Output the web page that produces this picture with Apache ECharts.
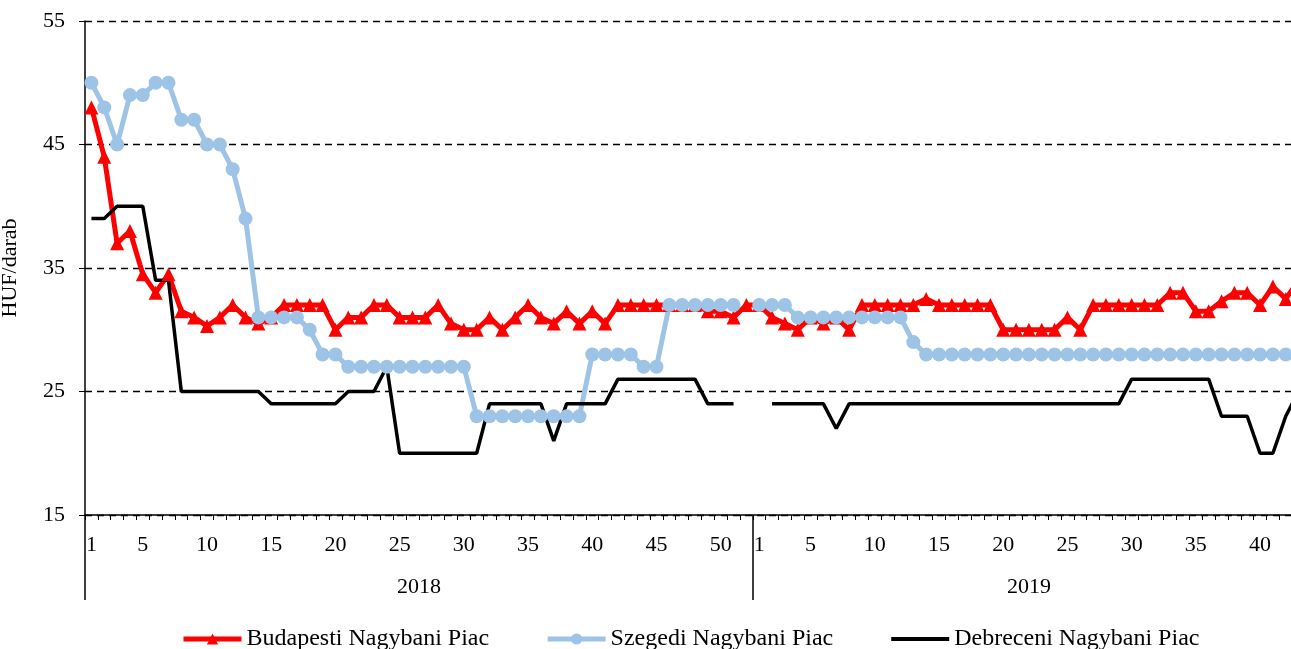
<!DOCTYPE html>
<html>
<head>
<meta charset="utf-8">
<script src="https://cdn.jsdelivr.net/npm/echarts@6/dist/echarts.min.js"></script>
<style>
html,body{margin:0;padding:0;background:#fff;}
#chart{width:1291px;height:649px;}
</style>
</head>
<body>
<div id="chart"></div>
<script>
// ---- data ----
const years = ['2018', '2019'];
const weeks2018 = [1,2,3,4,5,6,7,8,9,10,11,12,13,14,15,16,17,18,19,20,21,22,23,24,25,26,27,28,29,30,31,32,33,34,35,36,37,38,39,40,41,42,43,44,45,46,47,48,49,50,51,52];
const weeks2019 = [1,2,3,4,5,6,7,8,9,10,11,12,13,14,15,16,17,18,19,20,21,22,23,24,25,26,27,28,29,30,31,32,33,34,35,36,37,38,39,40,41,42,43];

const budapest2018 = [48,44,37,38,34.5,33,34.5,31.5,31,30.3,31,32,31,30.5,31,32,32,32,32,30,31,31,32,32,31,31,31,32,30.5,30,30,31,30,31,32,31,30.5,31.5,30.5,31.5,30.5,32,32,32,32,32,32,32,31.5,31.5,31,32];
const budapest2019 = [32,31,30.5,30,31,30.5,31,30,32,32,32,32,32,32.5,32,32,32,32,32,30,30,30,30,30,31,30,32,32,32,32,32,32,33,33,31.5,31.5,32.3,33,33,32,33.5,32.5,34];

const szeged2018 = [50,48,45,49,49,50,50,47,47,45,45,43,39,31,31,31,31,30,28,28,27,27,27,27,27,27,27,27,27,27,23,23,23,23,23,23,23,23,23,28,28,28,28,27,27,32,32,32,32,32,32,null];
const szeged2019 = [32,32,32,31,31,31,31,31,31,31,31,31,29,28,28,28,28,28,28,28,28,28,28,28,28,28,28,28,28,28,28,28,28,28,28,28,28,28,28,28,28,28,28];

const debrecen2018 = [39,39,40,40,40,34,34,25,25,25,25,25,25,25,24,24,24,24,24,24,25,25,25,27,20,20,20,20,20,20,20,24,24,24,24,24,21,24,24,24,24,26,26,26,26,26,26,26,24,24,24,null];
const debrecen2019 = [null,24,24,24,24,24,22,24,24,24,24,24,24,24,24,24,24,24,24,24,24,24,24,24,24,24,24,24,24,26,26,26,26,26,26,26,23,23,23,20,20,23,25];

const seriesNames = ['Budapesti Nagybani Piac', 'Szegedi Nagybani Piac', 'Debreceni Nagybani Piac'];
const yTicks = [15, 25, 35, 45, 55];

// ---- build ----
const categories = weeks2018.map(w => years[0] + '-' + w).concat(weeks2019.map(w => years[1] + '-' + w));
const n18 = weeks2018.length;
const nAll = categories.length;
const font = 'Liberation Serif';

const chart = echarts.init(document.getElementById('chart'), null, {renderer: 'canvas'});
chart.setOption({
  animation: false,
  backgroundColor: '#fff',
  grid: {left: 85, top: 21, width: 1220, height: 494, containLabel: false, outerBoundsMode: 'none'},
  legend: {
    left: 176, top: 622,
    itemWidth: 58, itemHeight: 14, itemGap: 56,
    textStyle: {fontFamily: font, fontSize: 24, color: '#000'},
    data: [
      {name: seriesNames[0], lineStyle: {width: 5, color: '#FF0000'}},
      {name: seriesNames[1], lineStyle: {width: 5, color: '#9DC3E6'}},
      {name: seriesNames[2], lineStyle: {width: 4, color: '#000'}, itemStyle: {opacity: 0}}
    ]
  },
  xAxis: [
    {
      type: 'category',
      data: categories,
      boundaryGap: true,
      axisLine: {lineStyle: {color: '#000', width: 1.5}},
      axisTick: {show: true, interval: 0, length: 5, lineStyle: {color: '#000', width: 1}},
      axisLabel: {
        interval: function (i, v) { const w = +String(v).split('-')[1]; return w === 1 || w % 5 === 0; },
        formatter: function (v) { return String(v).split('-')[1]; },
        margin: 19, fontFamily: font, fontSize: 22, color: '#000'
      },
      splitLine: {show: false}
    },
    {
      type: 'value',
      position: 'bottom',
      min: 0, max: nAll,
      axisLine: {show: false},
      splitLine: {show: false},
      axisTick: {show: true, customValues: [0, n18, nAll], length: 85, lineStyle: {color: '#000', width: 1.5}},
      axisLabel: {
        customValues: [n18 / 2, n18 + (nAll - n18) / 2],
        formatter: function (v) { return v < n18 ? years[0] : years[1]; },
        margin: 61, fontFamily: font, fontSize: 22, color: '#000'
      }
    }
  ],
  yAxis: {
    type: 'value',
    min: yTicks[0], max: yTicks[yTicks.length - 1], interval: 10,
    name: 'HUF/darab', nameLocation: 'middle', nameGap: 64, nameRotate: 90,
    nameTextStyle: {fontFamily: font, fontSize: 22, color: '#000'},
    axisLine: {show: true, lineStyle: {color: '#000', width: 1.5}},
    axisTick: {show: true, length: 6, lineStyle: {color: '#000'}},
    axisLabel: {margin: 20, fontFamily: font, fontSize: 22, color: '#000'},
    splitLine: {show: true, lineStyle: {color: '#000', width: 1.3, type: [7, 5]}}
  },
  series: [
    {
      name: seriesNames[0], type: 'line',
      data: budapest2018.concat(budapest2019),
      symbol: 'triangle', symbolSize: 14, showAllSymbol: true,
      itemStyle: {color: '#FF0000'},
      lineStyle: {color: '#FF0000', width: 5},
      connectNulls: false
    },
    {
      name: seriesNames[1], type: 'line',
      data: szeged2018.concat(szeged2019),
      symbol: 'circle', symbolSize: 14, showAllSymbol: true,
      itemStyle: {color: '#9DC3E6'},
      lineStyle: {color: '#9DC3E6', width: 5},
      connectNulls: false
    },
    {
      name: seriesNames[2], type: 'line',
      data: debrecen2018.concat(debrecen2019),
      symbol: 'none', showSymbol: false,
      itemStyle: {color: '#000'},
      lineStyle: {color: '#000', width: 3.5},
      connectNulls: false
    }
  ]
});
</script>
</body>
</html>
